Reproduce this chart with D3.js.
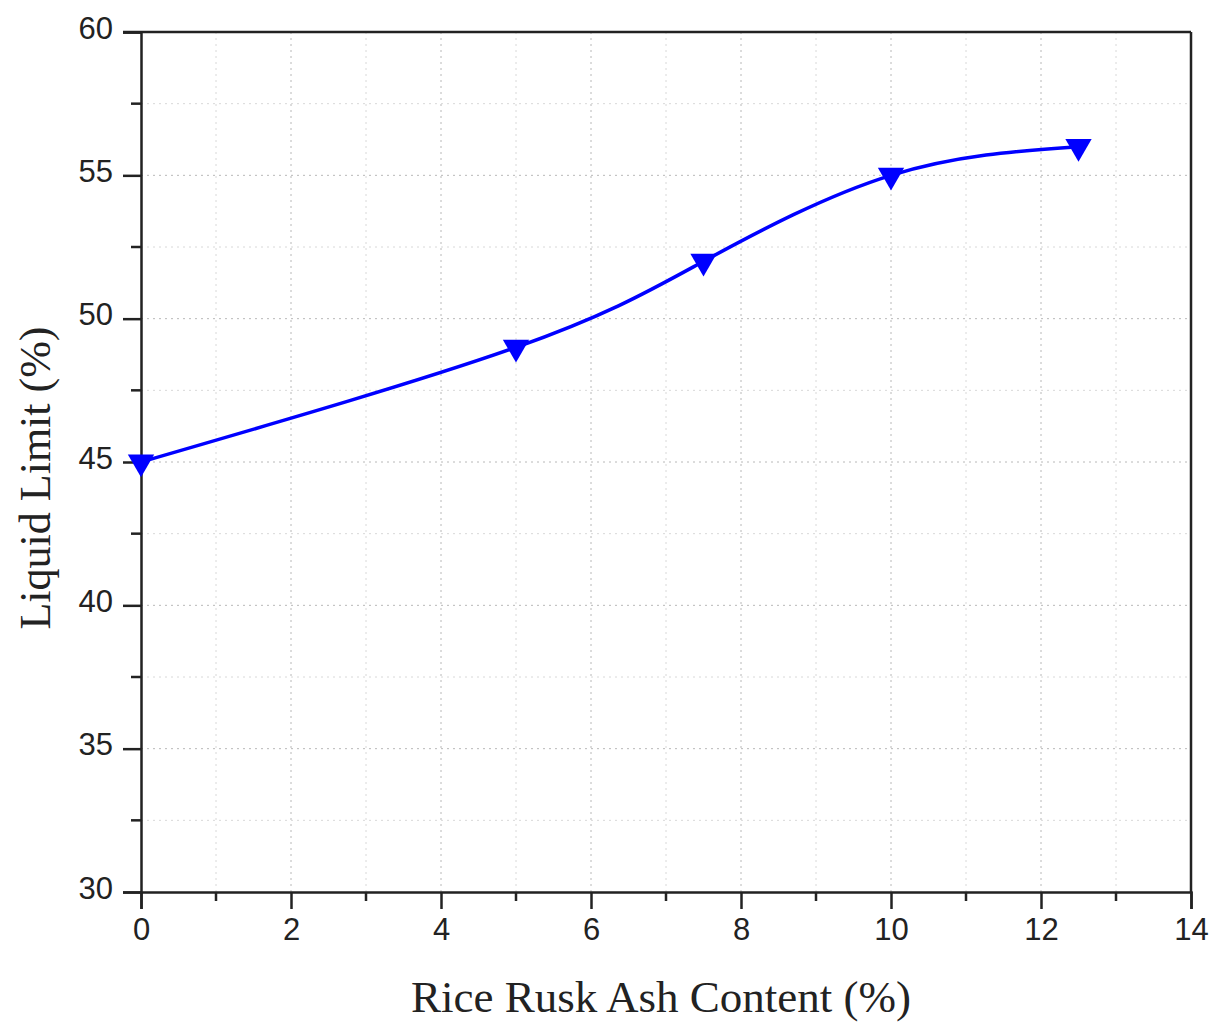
<!DOCTYPE html>
<html>
<head>
<meta charset="utf-8">
<script src="https://cdn.jsdelivr.net/npm/d3@7"></script>
<style>
  body { margin: 0; background: #fff; }
  svg { display: block; }
</style>
</head>
<body>
<div id="chart"></div>
<script>
// Data
const ashContent = [0, 5, 7.5, 10, 12.5];
const liquidLimit = [45, 49, 52, 55, 56];
const xMajorTicks = [0, 2, 4, 6, 8, 10, 12, 14];
const xMinorTicks = [1, 3, 5, 7, 9, 11, 13];
const yMajorTicks = [30, 35, 40, 45, 50, 55, 60];
const yMinorTicks = [32.5, 37.5, 42.5, 47.5, 52.5, 57.5];

const width = 1214, height = 1025;
const margin = { top: 32, right: 23, bottom: 133, left: 141 };
const innerW = width - margin.left - margin.right;
const innerH = height - margin.top - margin.bottom;

const svg = d3.select('#chart').append('svg')
  .attr('width', width)
  .attr('height', height);

const g = svg.append('g')
  .attr('transform', `translate(${margin.left},${margin.top})`);

const x = d3.scaleLinear().domain([0, 14]).range([0, innerW]);
const y = d3.scaleLinear().domain([30, 60]).range([innerH, 0]);

// Dotted grid
const grid = g.append('g').attr('class', 'grid');
grid.selectAll('.gx')
  .data(xMajorTicks.concat(xMinorTicks).filter(d => d > 0 && d < 14))
  .enter().append('line')
  .attr('x1', d => x(d)).attr('x2', d => x(d))
  .attr('y1', 0).attr('y2', innerH)
  .attr('stroke', d => d % 2 === 0 ? '#b8b8b8' : '#d8d8d8')
  .attr('stroke-width', 1)
  .attr('stroke-dasharray', '2,4');
grid.selectAll('.gy')
  .data(yMajorTicks.concat(yMinorTicks).filter(d => d > 30 && d < 60))
  .enter().append('line')
  .attr('x1', 0).attr('x2', innerW)
  .attr('y1', d => y(d)).attr('y2', d => y(d))
  .attr('stroke', d => d % 5 === 0 ? '#b8b8b8' : '#d8d8d8')
  .attr('stroke-width', 1)
  .attr('stroke-dasharray', '2,4');

// Frame (top and right)
g.append('line')
  .attr('x1', -18).attr('x2', innerW)
  .attr('y1', 0).attr('y2', 0)
  .attr('stroke', '#222').attr('stroke-width', 2.5);
g.append('line')
  .attr('x1', innerW).attr('x2', innerW)
  .attr('y1', 0).attr('y2', innerH)
  .attr('stroke', '#222').attr('stroke-width', 2.5);

// Bottom axis
const xAxis = g.append('g')
  .attr('transform', `translate(0,${innerH})`)
  .call(d3.axisBottom(x).tickValues(xMajorTicks).tickSize(17).tickPadding(9));
xAxis.append('g')
  .selectAll('line')
  .data(xMinorTicks)
  .enter().append('line')
  .attr('x1', d => x(d)).attr('x2', d => x(d))
  .attr('y1', 0).attr('y2', 9);

// Left axis
const yAxis = g.append('g')
  .call(d3.axisLeft(y).tickValues(yMajorTicks).tickSize(18).tickPadding(10));
yAxis.append('g')
  .selectAll('line')
  .data(yMinorTicks)
  .enter().append('line')
  .attr('x1', 0).attr('x2', -10)
  .attr('y1', d => y(d)).attr('y2', d => y(d));

[xAxis, yAxis].forEach(ax => {
  ax.attr('font-size', null).attr('font-family', null);
  ax.select('.domain').attr('stroke', '#222').attr('stroke-width', 2.5);
  ax.selectAll('line').attr('stroke', '#222').attr('stroke-width', 2.5);
  ax.selectAll('text')
    .style('font-family', 'Liberation Sans, Arial, sans-serif')
    .style('font-size', '31px')
    .attr('fill', '#222');
});
yAxis.selectAll('.tick text').attr('dy', '0.2em');

// Series line
const points = ashContent.map((d, i) => ({ x: d, y: liquidLimit[i] }));
const line = d3.line()
  .x(d => x(d.x))
  .y(d => y(d.y))
  .curve(d3.curveNatural);

g.append('path')
  .datum(points)
  .attr('fill', 'none')
  .attr('stroke', '#0000ff')
  .attr('stroke-width', 3.5)
  .attr('d', line);

// Down-triangle markers
const tri = d3.symbol().type(d3.symbolTriangle).size(300);
g.selectAll('.marker')
  .data(points)
  .enter().append('path')
  .attr('class', 'marker')
  .attr('d', tri)
  .attr('transform', d => `translate(${x(d.x)},${y(d.y)}) rotate(180)`)
  .attr('fill', '#0000ff');

// Axis titles
svg.append('text')
  .attr('x', 661)
  .attr('y', 1012)
  .attr('text-anchor', 'middle')
  .style('font-family', 'Liberation Serif, Times New Roman, serif')
  .style('font-size', '45px')
  .attr('fill', '#222')
  .text('Rice Rusk Ash Content (%)');

svg.append('text')
  .attr('transform', 'translate(50,478) rotate(-90)')
  .attr('text-anchor', 'middle')
  .style('font-family', 'Liberation Serif, Times New Roman, serif')
  .style('font-size', '44px')
  .attr('fill', '#222')
  .text('Liquid Limit (%)');
</script>
</body>
</html>
